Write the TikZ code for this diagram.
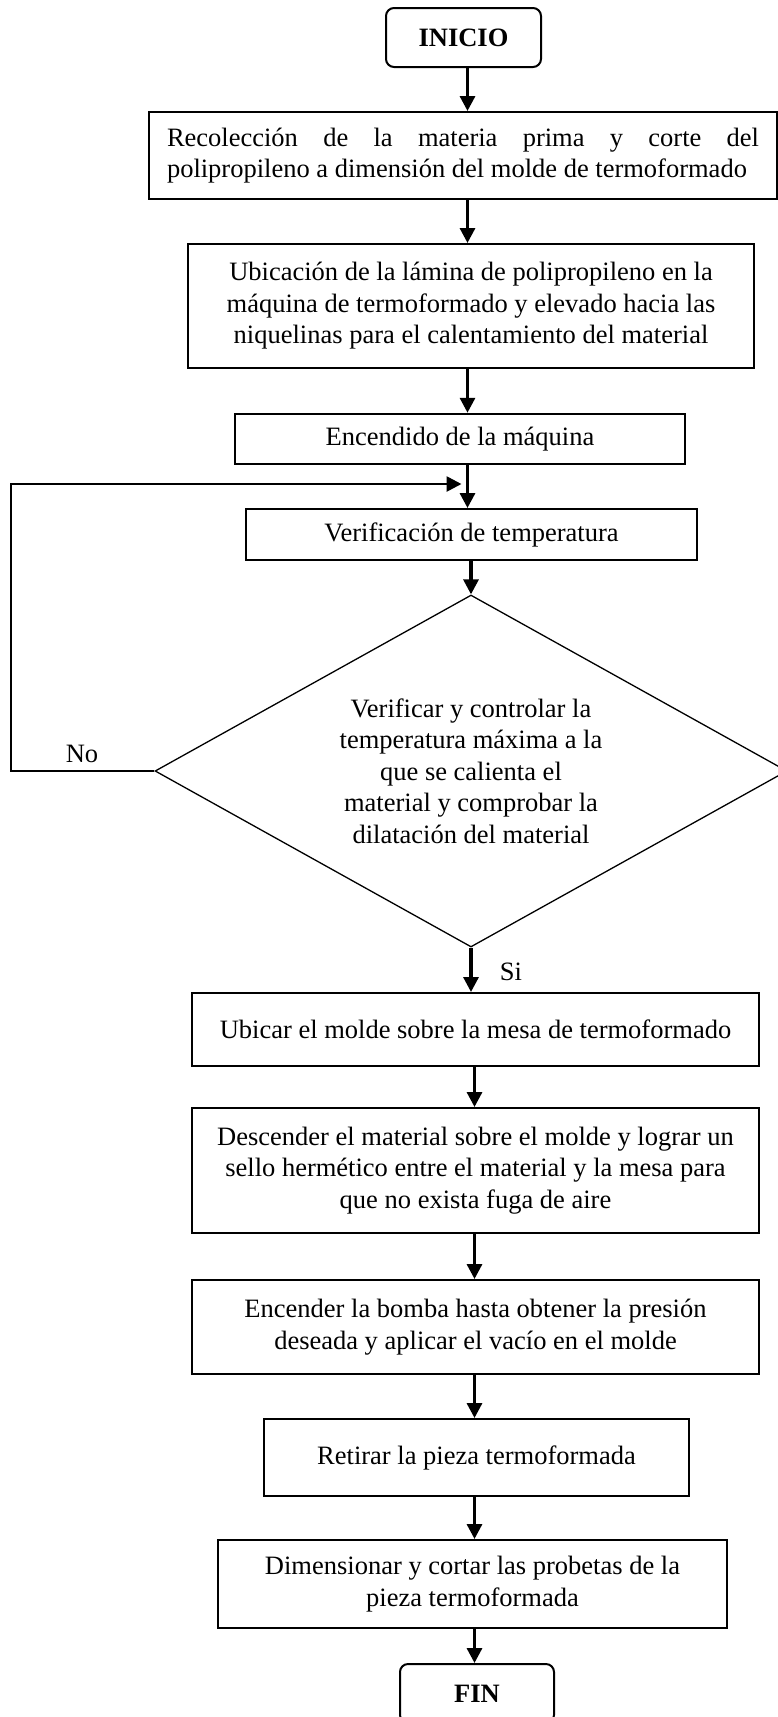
\documentclass[tikz,border=0pt]{standalone}
\usepackage{fontspec}
\setmainfont{Liberation Serif}
\usetikzlibrary{shapes.geometric,arrows.meta}

\tikzset{
  paso/.style={draw, line width=2pt, align=center, inner sep=0pt,
    font=\fontsize{26.5}{31.5}\selectfont},
  term/.style={paso, rounded corners=8pt,
    font=\fontsize{26.5}{31.5}\selectfont\bfseries},
  decis/.style={diamond, draw, line width=1.3pt, inner sep=0pt,
    shape aspect=1.8, align=center, font=\fontsize{26.5}{31.5}\selectfont},
  etiq/.style={inner sep=0pt, font=\fontsize{26.5}{31.5}\selectfont},
  flujo/.style={line width=3.2pt, -{Triangle[length=15pt,width=15pt]}},
}

\begin{document}
\begin{tikzpicture}[x=1pt,y=-1pt]
  \useasboundingbox (0,0) rectangle (778,1717);

  %% inicio y pasos
  \node[term, minimum width=155pt, minimum height=59pt] (inicio) at (463.5,37.5) {INICIO};
  \node[paso, minimum width=628pt, minimum height=87pt, text width=592pt, align=justify]
    (recol) at (463,155.5)
    {Recolección de la materia prima y corte del\linebreak polipropileno a dimensión del molde de termoformado};
  \node[paso, minimum width=566pt, minimum height=124pt] (ubic) at (471,306)
    {Ubicación de la lámina de polipropileno en la\\máquina de termoformado y elevado hacia las\\niquelinas para el calentamiento del material};
  \node[paso, minimum width=450pt, minimum height=50.5pt] (enc) at (460,439) {Encendido de la máquina};
  \node[paso, minimum width=451pt, minimum height=51pt] (verif) at (471.5,534.5) {Verificación de temperatura};

  %% decision
  \node[decis, minimum width=632pt, minimum height=352pt] (control) at (471,771)
    {Verificar y controlar la\\temperatura máxima a la\\que se calienta el\\material y comprobar la\\dilatación del material};

  %% pasos finales
  \node[paso, minimum width=567pt, minimum height=73pt] (molde) at (475.5,1029.5)
    {Ubicar el molde sobre la mesa de termoformado};
  \node[paso, minimum width=567pt, minimum height=125pt] (desc) at (475.5,1170.5)
    {Descender el material sobre el molde y lograr un\\sello hermético entre el material y la mesa para\\que no exista fuga de aire};
  \node[paso, minimum width=567pt, minimum height=94pt] (bomba) at (475.5,1327)
    {Encender la bomba hasta obtener la presión\\deseada y aplicar el vacío en el molde};
  \node[paso, minimum width=425pt, minimum height=77pt] (retiro) at (476.5,1457.5)
    {Retirar la pieza termoformada};
  \node[paso, minimum width=509pt, minimum height=88pt] (probeta) at (472.5,1584)
    {Dimensionar y cortar las probetas de la\\pieza termoformada};
  \node[term, minimum width=154pt, minimum height=59pt] (fin) at (477,1693.5) {FIN};

  %% etiquetas
  \node[etiq] (no) at (82,754) {No};
  \node[etiq] (si) at (511,972) {Si};

  %% flechas
  \coordinate (eje) at (467.5,0);
  \coordinate (eje2) at (474.5,0);
  \draw[flujo] (inicio.south -| eje) -- (recol.north -| eje);
  \draw[flujo] (recol.south -| eje) -- (ubic.north -| eje);
  \draw[flujo] (ubic.south -| eje) -- (enc.north -| eje);
  \draw[flujo] (enc.south -| eje) -- (verif.north -| eje);
  \draw[flujo] (verif.south -| control.north) -- (control.north);
  \draw[flujo] (control.south) -- (control.south |- molde.north);
  \draw[flujo] (molde.south -| eje2) -- (desc.north -| eje2);
  \draw[flujo] (desc.south -| eje2) -- (bomba.north -| eje2);
  \draw[flujo] (bomba.south -| eje2) -- (retiro.north -| eje2);
  \draw[flujo] (retiro.south -| eje2) -- (probeta.north -| eje2);
  \draw[flujo] (probeta.south -| eje2) -- (fin.north -| eje2);

  %% retorno
  \coordinate (izq) at (11,771);
  \coordinate (union) at (461.5,484);
  \draw[flujo, line width=2.7pt] (control.west) -- (izq) |- (union);

\end{tikzpicture}
\end{document}
